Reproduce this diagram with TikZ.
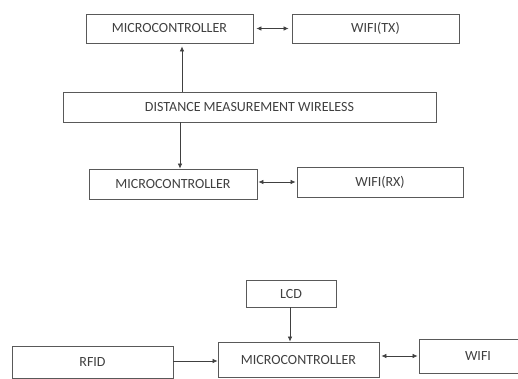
\documentclass[tikz,border=0pt]{standalone}
\usepackage{fontspec}
\setmainfont{Carlito}
\usetikzlibrary{arrows.meta}
\begin{document}
\begin{tikzpicture}[x=1pt,y=-1pt,
  box/.style={draw=black!65,line width=0.8pt,inner sep=0pt,font=\fontsize{14}{16}\selectfont,text=black!75},
  conn/.style={draw=black!75,line width=0.7pt,-{Latex[length=5pt,width=4.5pt]}},
  bconn/.style={draw=black!75,line width=0.7pt,{Latex[length=5pt,width=4.5pt]}-{Latex[length=5pt,width=4.5pt]}}]
\useasboundingbox (0,0) rectangle (518,378);
\clip (0,0) rectangle (518,378);
\node[box,minimum width=167pt,minimum height=29pt] (m1) at (169.5,28.5) {MICROCONTROLLER};
\node[box,minimum width=167pt,minimum height=29pt] (wtx) at (375.5,28.5) {WIFI(TX)};
\node[box,minimum width=373pt,minimum height=30pt] (dist) at (249.5,107) {DISTANCE MEASUREMENT WIRELESS};
\node[box,minimum width=168pt,minimum height=30pt] (m2) at (173,184) {MICROCONTROLLER};
\node[box,minimum width=166pt,minimum height=30pt] (wrx) at (380,182) {WIFI(RX)};
\node[box,minimum width=90pt,minimum height=27pt] (lcd) at (291,293.5) {LCD};
\node[box,minimum width=161pt,minimum height=35pt] (m3) at (298.5,359.5) {MICROCONTROLLER};
\node[box,minimum width=118pt,minimum height=34pt] (wifi) at (478,356) {WIFI};
\node[box,minimum width=161pt,minimum height=32pt] (rfid) at (92.5,362) {RFID};
\coordinate (c1) at (182,0);
\coordinate (c2) at (180,0);
\coordinate (c3) at (290,0);
\coordinate (r1) at (0,361);
\coordinate (r2) at (0,356);
\coordinate (r3) at (0,182);
\draw[conn,shorten >=3pt] (dist.north -| c1) -- (m1.south -| c1);
\draw[conn] (dist.south -| c2) -- (m2.north -| c2);
\draw[bconn,shorten <=3pt,shorten >=3pt] (m1.east) -- (wtx.west);
\draw[bconn,shorten <=1pt,shorten >=1pt] (m2.east |- r3) -- (wrx.west |- r3);
\draw[conn] (lcd.south -| c3) -- (m3.north -| c3);
\draw[conn] (rfid.east |- r1) -- (m3.west |- r1);
\draw[bconn,shorten <=2pt,shorten >=1pt] (m3.east |- r2) -- (wifi.west |- r2);
\end{tikzpicture}
\end{document}
